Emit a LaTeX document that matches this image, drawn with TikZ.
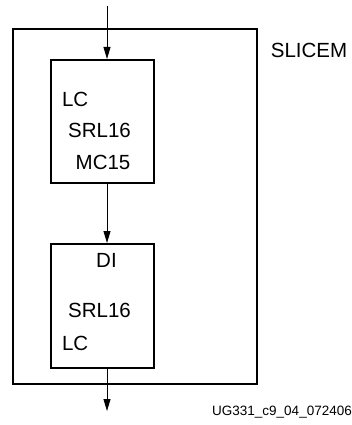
\documentclass[tikz,border=0pt]{standalone}
\usepackage{fontspec}
\setmainfont{Liberation Sans}
\usetikzlibrary{arrows.meta}

\begin{document}
\begin{tikzpicture}[
  x=1pt,y=-1pt,
  font=\fontsize{20.5}{24}\selectfont,
  slicebox/.style={draw,line width=2pt,inner sep=0pt,
               minimum width=244pt,minimum height=355pt},
  lcbox/.style={draw,line width=2pt,inner sep=0pt,
               minimum width=103pt,minimum height=123pt},
  lbl/.style={anchor=base west,inner sep=0pt},
  arr/.style={-{Triangle[length=12pt,width=7pt]},line width=0.9pt}
]
\useasboundingbox (0,0) rectangle (352,425);

\node[slicebox] (slice) at (135,206.5) {};
\node[lcbox] (lcup) at (102.5,121.5) {};
\node[lcbox,minimum height=124pt] (lclow) at (102.5,306) {};

\node[lbl] (slicename) at (270.7,57.7) {SLICEM};

\node[lbl] (lcupa) at (61.8,106.7) {LC};
\node[lbl] (lcupb) at (68,137.3) {SRL16};
\node[lbl] (lcupc) at (75.5,169.3) {MC15};

\node[lbl] (lclowa) at (96,267.7) {DI};
\node[lbl] (lclowb) at (68,317.7) {SRL16};
\node[lbl] (lclowc) at (61.8,350) {LC};

\node[lbl,font=\fontsize{13.5}{16}\selectfont] (fig) at (212,415.3)
  {UG331\_c9\_04\_072406};

\coordinate (din) at (107,6);
\coordinate (dout) at (107,411);

\draw[arr] (din) -- (din |- lcup.north);
\draw[arr] (lcup.south -| din) -- (lclow.north -| din);
\draw[arr] (lclow.south -| dout) -- (dout);
\end{tikzpicture}
\end{document}
